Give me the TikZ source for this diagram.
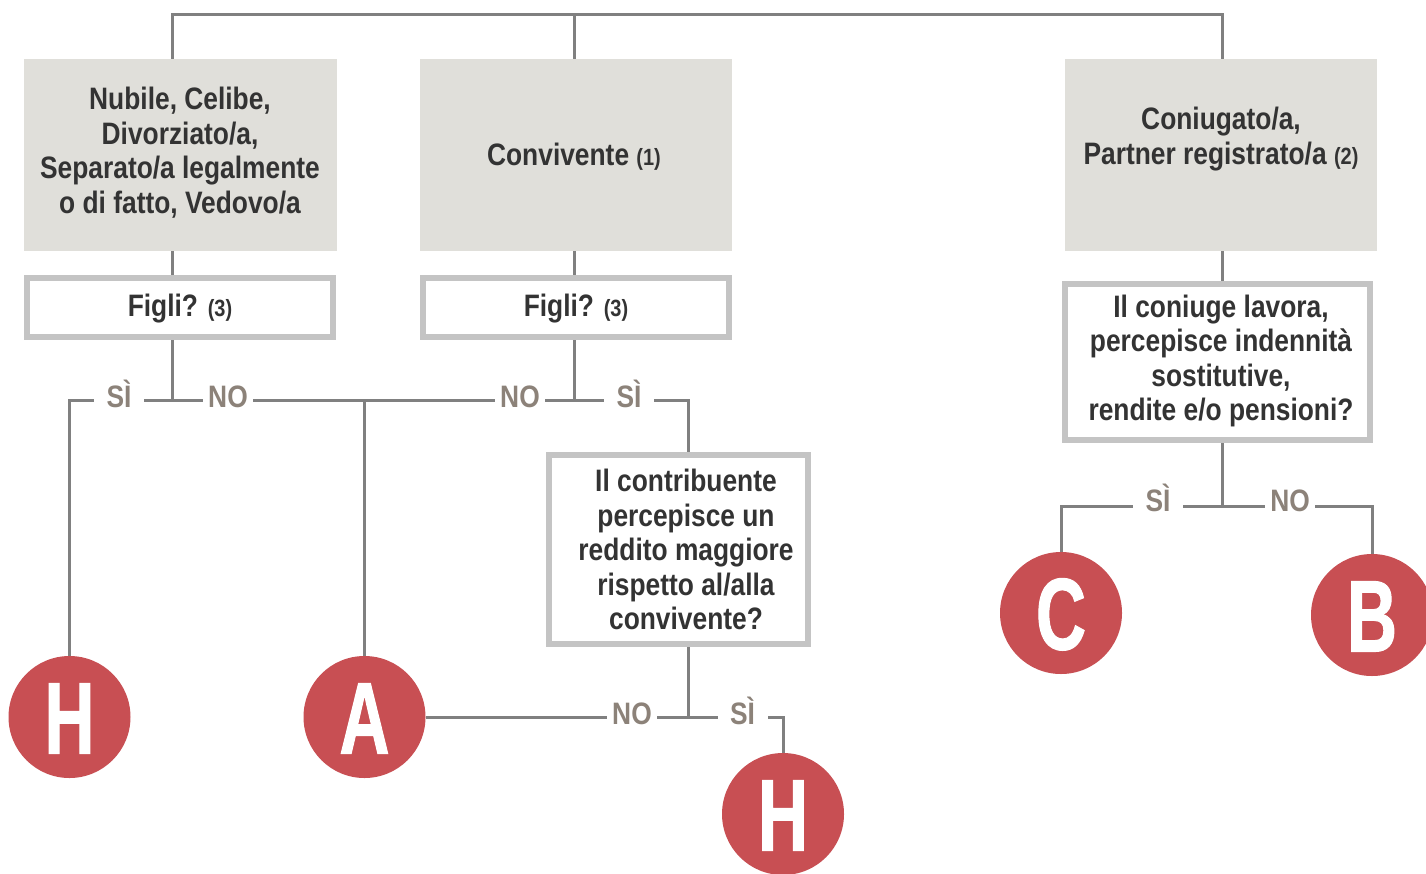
\documentclass[tikz,border=0pt]{standalone}
\usepackage{fontspec}
\setmainfont{Liberation Sans}[FakeStretch=0.85]
\newfontfamily\letterfont{Liberation Sans}[FakeStretch=0.68,FakeBold=1]
\usetikzlibrary{backgrounds}
\definecolor{linegray}{HTML}{808080}
\definecolor{boxgray}{HTML}{E0DFDA}
\definecolor{bordergray}{HTML}{C4C4C4}
\definecolor{txtcol}{HTML}{333333}
\definecolor{lblcol}{HTML}{8C8279}
\definecolor{rescol}{HTML}{C84F53}
\newcommand{\maintextfont}{\bfseries\fontsize{31pt}{34.5pt}\selectfont}
\newcommand{\smallnote}{\fontsize{23.5pt}{25pt}\selectfont}
\pgfdeclarelayer{bg}
\pgfsetlayers{bg,background,main}
\begin{document}
\begin{tikzpicture}[x=1pt,y=-1pt,
  graybox/.style={fill=boxgray,draw=none,inner sep=0pt,minimum height=192pt},
  qbox/.style={draw=bordergray,line width=6pt,fill=white,inner sep=0pt,align=center,font=\maintextfont,text=txtcol},
  maintxt/.style={align=center,font=\maintextfont,text=txtcol,inner sep=0pt},
  lbl/.style={fill=white,inner sep=0pt,minimum width=50pt,minimum height=30pt,font=\maintextfont,text=lblcol,text height=22pt,text depth=0pt},
  res/.style={circle,fill=rescol,inner sep=0pt,minimum size=122pt,text=white,font=\letterfont\bfseries\fontsize{102pt}{102pt}\selectfont,text height=73pt,text depth=0pt},
  conn/.style={draw=linegray,line width=3pt}]
\begin{pgfonlayer}{bg}
\fill[white] (0,0) rectangle (1426,873);
\end{pgfonlayer}
\useasboundingbox (0,0) rectangle (1426,873);

% status boxes
\node[graybox,minimum width=313pt] (s1) at (180.5,155) {};
\node[graybox,minimum width=312pt] (s2) at (576,155) {};
\node[graybox,minimum width=312pt] (s3) at (1221,155) {};
\node[maintxt] (t1) at (180,152.5) {Nubile, Celibe,\\Divorziato/a,\\Separato/a legalmente\\o di fatto, Vedovo/a};
\node[maintxt] (t2) at (574,157) {Convivente {\smallnote(1)}};
\node[maintxt] (t3) at (1221,139) {Coniugato/a,\\Partner registrato/a {\smallnote(2)}};

% question boxes
\node[qbox,minimum width=306pt,minimum height=59pt,text height=30pt,text depth=13pt] (f1) at (180,307.5) {Figli? {\smallnote(3)}};
\node[qbox,minimum width=306pt,minimum height=59pt,text height=30pt,text depth=13pt] (f2) at (576,307.5) {Figli? {\smallnote(3)}};
\node[qbox,minimum width=259pt,minimum height=189pt] (q1) at (678.5,549.5) {};
\node[maintxt] (q1t) at (686,549.5) {Il contribuente\\percepisce un\\reddito maggiore\\rispetto al/alla\\convivente?};
\node[qbox,minimum width=305pt,minimum height=156pt] (q2) at (1217.5,362) {};
\node[maintxt] (q2t) at (1221,361) {Il coniuge lavora,\\percepisce indennità\\sostitutive,\\rendite e/o pensioni?};

% result circles
\node[res] (h1) at (69.5,717) {H};
\node[res] (a) at (364.5,717) {A};
\node[res] (h2) at (783,814) {H};
\node[res] (c) at (1061,613) {C};
\node[res] (b) at (1372,615) {B};

% junction coordinates
\coordinate (top1) at (172.5,14);
\coordinate (top2) at (574,14);
\coordinate (top3) at (1222,14);
\coordinate (j1) at (172.5,400);
\coordinate (j2) at (574,400);
\coordinate (r2) at (688,400);
\coordinate (k1) at (688,717);
\coordinate (m1) at (1222,506);

\begin{scope}[on background layer]
\draw[conn] (s1.north -| top1) -- (top1) -- (top3) -- (s3.north -| top3);
\draw[conn] (top2) -- (s2.north -| top2);
\draw[conn] (s1.south -| top1) -- (f1.north -| top1);
\draw[conn] (s2.south -| top2) -- (f2.north -| top2);
\draw[conn] (s3.south -| top3) -- (q2.north -| top3);
\draw[conn] (f1.south -| j1) -- (j1);
\draw[conn] (f2.south -| j2) -- (j2);
\draw[conn] (h1.north) -- (h1.north |- j1) -- (r2) -- (q1.north -| r2);
\draw[conn] (a.north) -- (a.north |- j1);
\draw[conn] (q1.south -| k1) -- (k1);
\draw[conn] (a.east) -- (k1 -| h2.north) -- (h2.north);
\draw[conn] (q2.south -| m1) -- (m1);
\draw[conn] (c.north) |- (b.north |- m1) -- (b.north);
\end{scope}

% labels
\node[lbl] (si1) at (119,396) {SÌ};
\node[lbl] (no1) at (228,396) {NO};
\node[lbl] (no2) at (520,396) {NO};
\node[lbl] (si2) at (629,396) {SÌ};
\node[lbl] (no3) at (632,713.5) {NO};
\node[lbl] (si3) at (742.5,713.5) {SÌ};
\node[lbl] (si4) at (1158,500) {SÌ};
\node[lbl] (no4) at (1290,500) {NO};
\end{tikzpicture}
\end{document}
